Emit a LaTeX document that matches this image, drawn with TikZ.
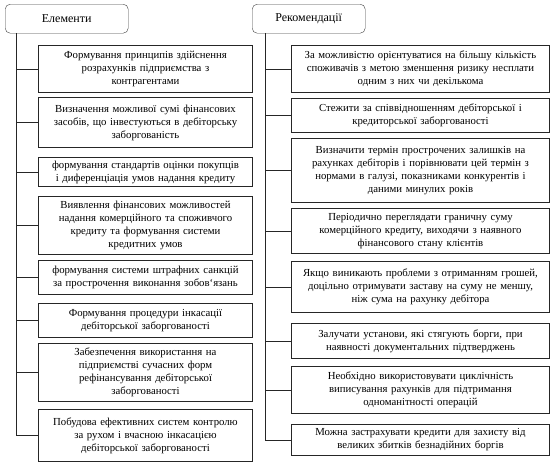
\documentclass[tikz,border=0pt]{standalone}
\usepackage{fontspec}
\setmainfont{Liberation Serif}
\usetikzlibrary{positioning}

\tikzset{
  headbox/.style={draw=black!75, rounded corners=5pt, minimum width=#1,
    minimum height=29pt, inner sep=0pt, anchor=north west,
    font=\fontsize{12}{14}\selectfont},
  itembox/.style={draw=black!85, line width=1pt, align=center,
    inner xsep=2pt, inner ysep=1pt, anchor=north west,
    font=\fontsize{10.75}{13}\selectfont},
  leftbox/.style={itembox, text width=210pt},
  rightbox/.style={itembox, text width=254pt},
  link/.style={draw=black!85, line width=0.8pt}
}

\begin{document}
\begin{tikzpicture}[x=1pt, y=-1pt]

\useasboundingbox (0,0) rectangle (555,466);

% --- headers ---
\node[headbox=123pt] (hdrL) at (5,4)   {Елементи};
\node[headbox=113pt] (hdrR) at (252,4) {Рекомендації};

% --- spine positions ---
\coordinate (spineL) at (16,0);
\coordinate (spineR) at (265,0);

% --- left column: elements ---
\node[leftbox, minimum height=47pt] (eL1) at (38,45)
  {Формування принципів здійснення\\ розрахунків підприємства з\\ контрагентами};
\node[leftbox, minimum height=50pt] (eL2) at (38,97)
  {Визначення можливої сумі фінансових\\ засобів, що інвестуються в дебіторську\\ заборгованість};
\node[leftbox, minimum height=29pt] (eL3) at (38,157)
  {формування стандартів оцінки покупців\\ і диференціація умов надання кредиту};
\node[leftbox, minimum height=58pt] (eL4) at (38,196)
  {Виявлення фінансових можливостей\\ надання комерційного та споживчого\\ кредиту та формування системи\\ кредитних умов};
\node[leftbox, minimum height=34pt] (eL5) at (38,260)
  {формування системи штрафних санкцій\\ за прострочення виконання зобов`язань};
\node[leftbox, minimum height=34pt] (eL6) at (38,303)
  {Формування процедури інкасації\\ дебіторської заборгованості};
\node[leftbox, minimum height=58pt] (eL7) at (38,343)
  {Забезпечення використання на\\ підприємстві сучасних форм\\ рефінансування дебіторської\\ заборгованості};
\node[leftbox, minimum height=52pt] (eL8) at (38,409)
  {Побудова ефективних систем контролю\\ за рухом і вчасною інкасацією\\ дебіторської заборгованості};

% --- right column: recommendations ---
\node[rightbox, minimum height=47pt] (rR1) at (291,45)
  {За можливістю орієнтуватися на більшу кількість\\ споживачів з метою зменшення ризику несплати\\ одним з них чи декількома};
\node[rightbox, minimum height=34pt] (rR2) at (291,98)
  {Стежити за співвідношенням дебіторської і\\ кредиторської заборгованості};
\node[rightbox, minimum height=64pt] (rR3) at (291,138)
  {Визначити термін прострочених залишків на\\ рахунках дебіторів і порівнювати цей термін з\\ нормами в галузі, показниками конкурентів і\\ даними минулих років};
\node[rightbox, minimum height=45pt] (rR4) at (291,208)
  {Періодично переглядати граничну суму\\ комерційного кредиту, виходячи з наявного\\ фінансового стану клієнтів};
\node[rightbox, minimum height=51pt] (rR5) at (291,261)
  {Якщо виникають проблеми з отриманням грошей,\\ доцільно отримувати заставу на суму не меншу,\\ ніж сума на рахунку дебітора};
\node[rightbox, minimum height=35pt] (rR6) at (291,323)
  {Залучати установи, які стягують борги, при\\ наявності документальних підтверджень};
\node[rightbox, minimum height=47pt] (rR7) at (291,366)
  {Необхідно використовувати циклічність\\ виписування рахунків для підтримання\\ одноманітності операцій};
\node[rightbox, minimum height=31pt] (rR8) at (291,424)
  {Можна застрахувати кредити для захисту від\\ великих збитків безнадійних боргів};

% --- spines ---
\draw[link] (hdrL.south -| spineL) -- (eL8.west -| spineL);
\draw[link] (hdrR.south -| spineR) -- (rR8.west -| spineR);

% --- branches ---
\foreach \i in {1,...,8} {
    \draw[link] (eL\i.west -| spineL) -- (eL\i.west);
    \draw[link] (rR\i.west -| spineR) -- (rR\i.west);
}

\end{tikzpicture}
\end{document}
